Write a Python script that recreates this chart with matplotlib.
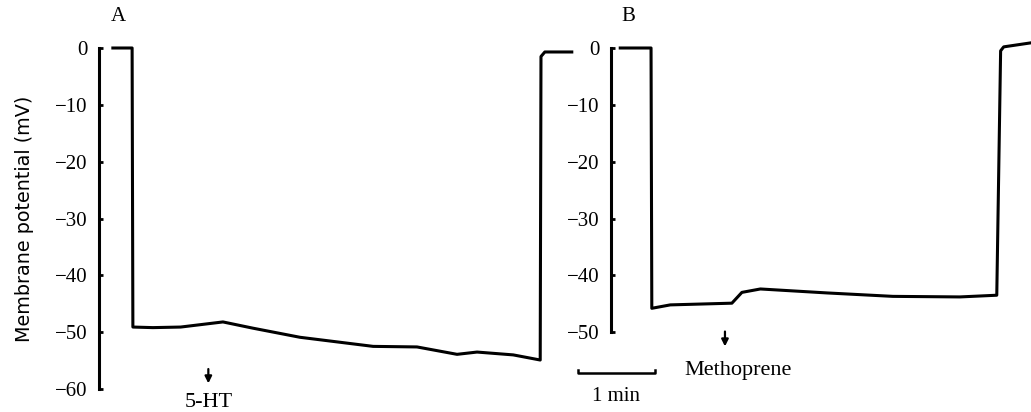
import matplotlib.pyplot as plt

# Trace A: time (min from axis), membrane potential (mV)
time_a = [0.18, 0.43, 0.44, 0.70, 1.06, 1.61, 2.00, 2.61, 3.56, 4.13, 4.65, 4.91, 5.38, 5.73, 5.74, 5.79, 6.14]
mv_a = [0.0, 0.0, -49.1, -49.2, -49.1, -48.2, -49.3, -50.9, -52.5, -52.6, -53.9, -53.5, -54.0, -54.9, -1.5, -0.7, -0.7]

# Trace B
time_b = [0.12, 0.52, 0.53, 0.77, 1.57, 1.70, 1.94, 2.81, 3.66, 4.53, 5.01, 5.06, 5.10, 5.45]
mv_b = [0.0, 0.0, -45.8, -45.2, -44.9, -43.0, -42.4, -43.1, -43.7, -43.8, -43.5, -0.5, 0.2, 0.9]

ticks_a = [0, -10, -20, -30, -40, -50, -60]
ticks_b = [0, -10, -20, -30, -40, -50]

plt.rcParams['font.family'] = ['Liberation Serif', 'DejaVu Serif']

W, H = 1031, 412
fig = plt.figure(figsize=(W / 100, H / 100), dpi=100)

px_per_min = 77.0
y_top, y_bot = 48, 389


def make_ax(left_px, right_px):
    ax = fig.add_axes([left_px / W, (H - y_bot) / H,
                       (right_px - left_px) / W, (y_bot - y_top) / H])
    ax.set_xlim(0, (right_px - left_px) / px_per_min)
    ax.set_ylim(-60, 0)
    for s in ['top', 'right', 'bottom']:
        ax.spines[s].set_visible(False)
    ax.spines['left'].set_linewidth(2.2)
    ax.set_xticks([])
    ax.tick_params(axis='y', direction='in', length=3, width=2, pad=8, labelsize=15)
    ax.patch.set_alpha(0)
    return ax


ax_a = make_ax(99, 590)
ax_a.set_yticks(ticks_a)
ax_a.plot(time_a, mv_a, color='black', lw=2.2, clip_on=False, solid_joinstyle='round')
ax_a.set_ylabel('Membrane potential (mV)', family='DejaVu Sans', fontsize=13.8, labelpad=15)
ax_a.text(0.25, 5.5, 'A', fontsize=15, ha='center', va='center', clip_on=False)
ax_a.annotate('', xy=(1.42, -59.5), xytext=(1.42, -56.0),
              arrowprops=dict(arrowstyle='-|>', color='black', lw=1.6, mutation_scale=10),
              annotation_clip=False)
ax_a.text(1.42, -62.3, '5-HT', fontsize=16, ha='center', va='center', clip_on=False)

ax_b = make_ax(611, 1031)
ax_b.set_yticks(ticks_b)
ax_b.spines['left'].set_bounds(-50, 0)
ax_b.plot(time_b, mv_b, color='black', lw=2.2, clip_on=False, solid_joinstyle='round')
ax_b.text(0.23, 5.5, 'B', fontsize=15, ha='center', va='center', clip_on=False)
ax_b.annotate('', xy=(1.48, -53.0), xytext=(1.48, -49.4),
              arrowprops=dict(arrowstyle='-|>', color='black', lw=1.6, mutation_scale=10),
              annotation_clip=False)
ax_b.text(1.65, -56.7, 'Methoprene', fontsize=16, ha='center', va='center', clip_on=False)

# 1 min scale bar
bar_x0, bar_x1, bar_y = -0.43, 0.57, -57.2
ax_b.plot([bar_x0, bar_x0, bar_x1, bar_x1], [bar_y + 0.6, bar_y, bar_y, bar_y + 0.6],
          color='black', lw=1.8, clip_on=False)
ax_b.text((bar_x0 + bar_x1) / 2, -61.4, '1 min', fontsize=15, ha='center', va='center',
          clip_on=False)

fig.savefig('out.png', dpi=100)
